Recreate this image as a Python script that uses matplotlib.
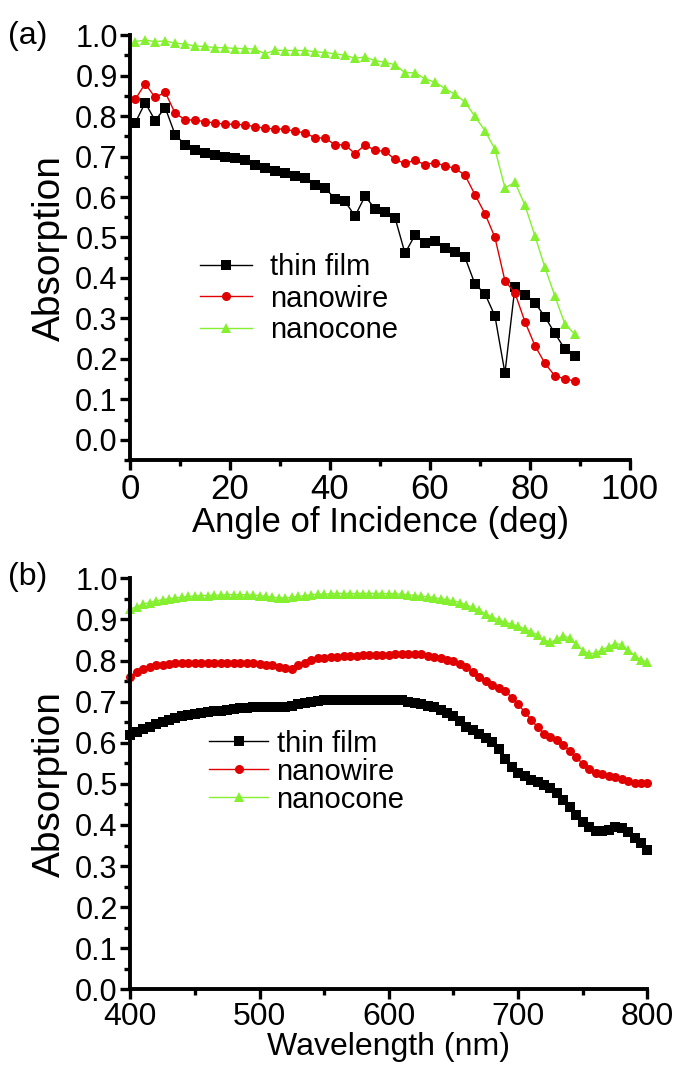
import numpy as np
import matplotlib
matplotlib.use('Agg')
import matplotlib.pyplot as plt
from matplotlib.ticker import MultipleLocator

plt.rcParams['font.family'] = ['Liberation Sans', 'DejaVu Sans']

# ---- panel (a): absorption vs angle of incidence ----
angle = np.arange(1, 91, 2)

angle_thin_film = [0.783, 0.833, 0.789, 0.821, 0.754, 0.729, 0.717, 0.709, 0.703, 0.699,
                   0.697, 0.691, 0.680, 0.672, 0.664, 0.659, 0.653, 0.648, 0.629, 0.622,
                   0.596, 0.589, 0.553, 0.602, 0.571, 0.562, 0.549, 0.461, 0.506, 0.486,
                   0.491, 0.475, 0.464, 0.451, 0.385, 0.361, 0.306, 0.165, 0.377, 0.359,
                   0.339, 0.304, 0.263, 0.224, 0.206]
angle_nanowire = [0.841, 0.880, 0.846, 0.859, 0.807, 0.791, 0.790, 0.786, 0.783, 0.780,
                  0.780, 0.778, 0.774, 0.770, 0.768, 0.768, 0.762, 0.759, 0.746, 0.746,
                  0.729, 0.729, 0.707, 0.729, 0.715, 0.713, 0.693, 0.683, 0.691, 0.680,
                  0.685, 0.677, 0.671, 0.654, 0.606, 0.559, 0.500, 0.393, 0.363, 0.292,
                  0.233, 0.189, 0.158, 0.151, 0.145]
angle_nanocone = [0.984, 0.988, 0.984, 0.986, 0.980, 0.978, 0.973, 0.972, 0.969, 0.969,
                  0.967, 0.967, 0.965, 0.954, 0.963, 0.962, 0.962, 0.962, 0.959, 0.957,
                  0.954, 0.950, 0.943, 0.946, 0.937, 0.933, 0.927, 0.907, 0.907, 0.892,
                  0.884, 0.868, 0.854, 0.835, 0.799, 0.764, 0.718, 0.623, 0.636, 0.580,
                  0.504, 0.426, 0.355, 0.286, 0.261]

# ---- panel (b): absorption vs wavelength ----
wavelength = np.arange(400, 801, 5)

wl_thin_film = [0.618, 0.626, 0.633, 0.639, 0.645, 0.651, 0.656, 0.660, 0.664, 0.667,
                0.670, 0.673, 0.675, 0.677, 0.678, 0.680, 0.682, 0.684, 0.685, 0.686,
                0.687, 0.687, 0.687, 0.688, 0.688, 0.690, 0.693, 0.697, 0.700, 0.702,
                0.703, 0.704, 0.705, 0.705, 0.705, 0.705, 0.705, 0.705, 0.705, 0.705,
                0.705, 0.704, 0.703, 0.700, 0.697, 0.694, 0.690, 0.686, 0.680, 0.673,
                0.664, 0.652, 0.639, 0.630, 0.622, 0.612, 0.602, 0.585, 0.560, 0.542,
                0.527, 0.518, 0.510, 0.504, 0.498, 0.490, 0.477, 0.461, 0.444, 0.425,
                0.407, 0.395, 0.386, 0.386, 0.388, 0.394, 0.392, 0.382, 0.369, 0.356,
                0.340]
wl_nanowire = [0.759, 0.771, 0.780, 0.785, 0.788, 0.790, 0.792, 0.793, 0.794, 0.794,
               0.794, 0.794, 0.794, 0.794, 0.794, 0.794, 0.794, 0.794, 0.794, 0.793,
               0.792, 0.790, 0.788, 0.785, 0.783, 0.780, 0.788, 0.795, 0.801, 0.805,
               0.807, 0.808, 0.809, 0.810, 0.811, 0.812, 0.813, 0.813, 0.813, 0.814,
               0.814, 0.815, 0.816, 0.816, 0.816, 0.815, 0.811, 0.808, 0.805, 0.802,
               0.799, 0.792, 0.784, 0.772, 0.759, 0.750, 0.741, 0.734, 0.726, 0.710,
               0.693, 0.675, 0.656, 0.638, 0.622, 0.614, 0.606, 0.594, 0.581, 0.565,
               0.548, 0.536, 0.527, 0.523, 0.520, 0.516, 0.512, 0.507, 0.502, 0.502,
               0.502]
wl_nanocone = [0.925, 0.931, 0.937, 0.941, 0.945, 0.948, 0.950, 0.952, 0.954, 0.956,
               0.957, 0.958, 0.958, 0.959, 0.959, 0.960, 0.960, 0.960, 0.960, 0.959,
               0.958, 0.956, 0.954, 0.953, 0.952, 0.954, 0.956, 0.958, 0.960, 0.961,
               0.962, 0.962, 0.963, 0.963, 0.963, 0.963, 0.963, 0.963, 0.963, 0.963,
               0.963, 0.962, 0.961, 0.960, 0.958, 0.956, 0.955, 0.953, 0.950, 0.948,
               0.945, 0.941, 0.935, 0.929, 0.922, 0.913, 0.905, 0.899, 0.893, 0.888,
               0.883, 0.877, 0.870, 0.862, 0.850, 0.844, 0.852, 0.859, 0.855, 0.840,
               0.824, 0.816, 0.818, 0.826, 0.834, 0.841, 0.838, 0.826, 0.812, 0.802,
               0.796]

labels = ['thin film', 'nanowire', 'nanocone']
colors = ['black', '#e00000', '#84f030']
markers = ['s', 'o', '^']


def style_axes(ax, xsize):
    for side in ['top', 'right']:
        ax.spines[side].set_visible(False)
    for side in ['left', 'bottom']:
        ax.spines[side].set_linewidth(2.8)
    ax.tick_params(which='major', direction='out', length=7, width=2.4, pad=2)
    ax.tick_params(which='minor', direction='out', length=4, width=2.4)
    ax.tick_params(axis='y', labelsize=22)
    ax.tick_params(axis='x', labelsize=xsize, pad=2)
    ax.yaxis.set_major_locator(MultipleLocator(0.1))
    ax.yaxis.set_minor_locator(MultipleLocator(0.05))
    ax.yaxis.set_major_formatter(plt.FormatStrFormatter('%.1f'))


fig = plt.figure(figsize=(6.78, 10.65), dpi=100)

# panel (a)
ax1 = fig.add_axes([0.192, 0.568, 0.737, 0.399])
series_a = [angle_thin_film, angle_nanowire, angle_nanocone]
for vals, lab, col, mk in zip(series_a, labels, colors, markers):
    ax1.plot(angle, vals, color=col, marker=mk, markersize=6.5, lw=1,
             markeredgewidth=0, label=lab, clip_on=False)
ax1.set_xlim(0, 100)
ax1.set_ylim(-0.05, 1.0)
ax1.xaxis.set_major_locator(MultipleLocator(20))
ax1.xaxis.set_minor_locator(MultipleLocator(10))
style_axes(ax1, 25)
ax1.set_xlabel('Angle of Incidence (deg)', fontsize=25, labelpad=0)
ax1.set_ylabel('Absorption', fontsize=28, labelpad=5)
ax1.legend(loc='center left', bbox_to_anchor=(0.11, 0.38), frameon=False,
           fontsize=21, handlelength=1.8, handletextpad=0.6, labelspacing=0.12,
           borderpad=0)
fig.text(0.012, 0.966, '(a)', fontsize=23, va='center')

# panel (b)
ax2 = fig.add_axes([0.192, 0.071, 0.763, 0.386])
series_b = [wl_thin_film, wl_nanowire, wl_nanocone]
for vals, lab, col, mk in zip(series_b, labels, colors, markers):
    ax2.plot(wavelength, vals, color=col, marker=mk, markersize=6.5, lw=1,
             markeredgewidth=0, label=lab, clip_on=False)
ax2.set_xlim(400, 800)
ax2.set_ylim(0, 1.0)
ax2.xaxis.set_major_locator(MultipleLocator(100))
ax2.xaxis.set_minor_locator(MultipleLocator(50))
style_axes(ax2, 23)
ax2.set_xlabel('Wavelength (nm)', fontsize=23, labelpad=0)
ax2.set_ylabel('Absorption', fontsize=28, labelpad=5)
ax2.legend(loc='center left', bbox_to_anchor=(0.125, 0.53), frameon=False,
           fontsize=21, handlelength=2.0, handletextpad=0.3, labelspacing=0.0,
           borderpad=0)
fig.text(0.012, 0.458, '(b)', fontsize=23, va='center')

plt.savefig('out.png', dpi=100)
